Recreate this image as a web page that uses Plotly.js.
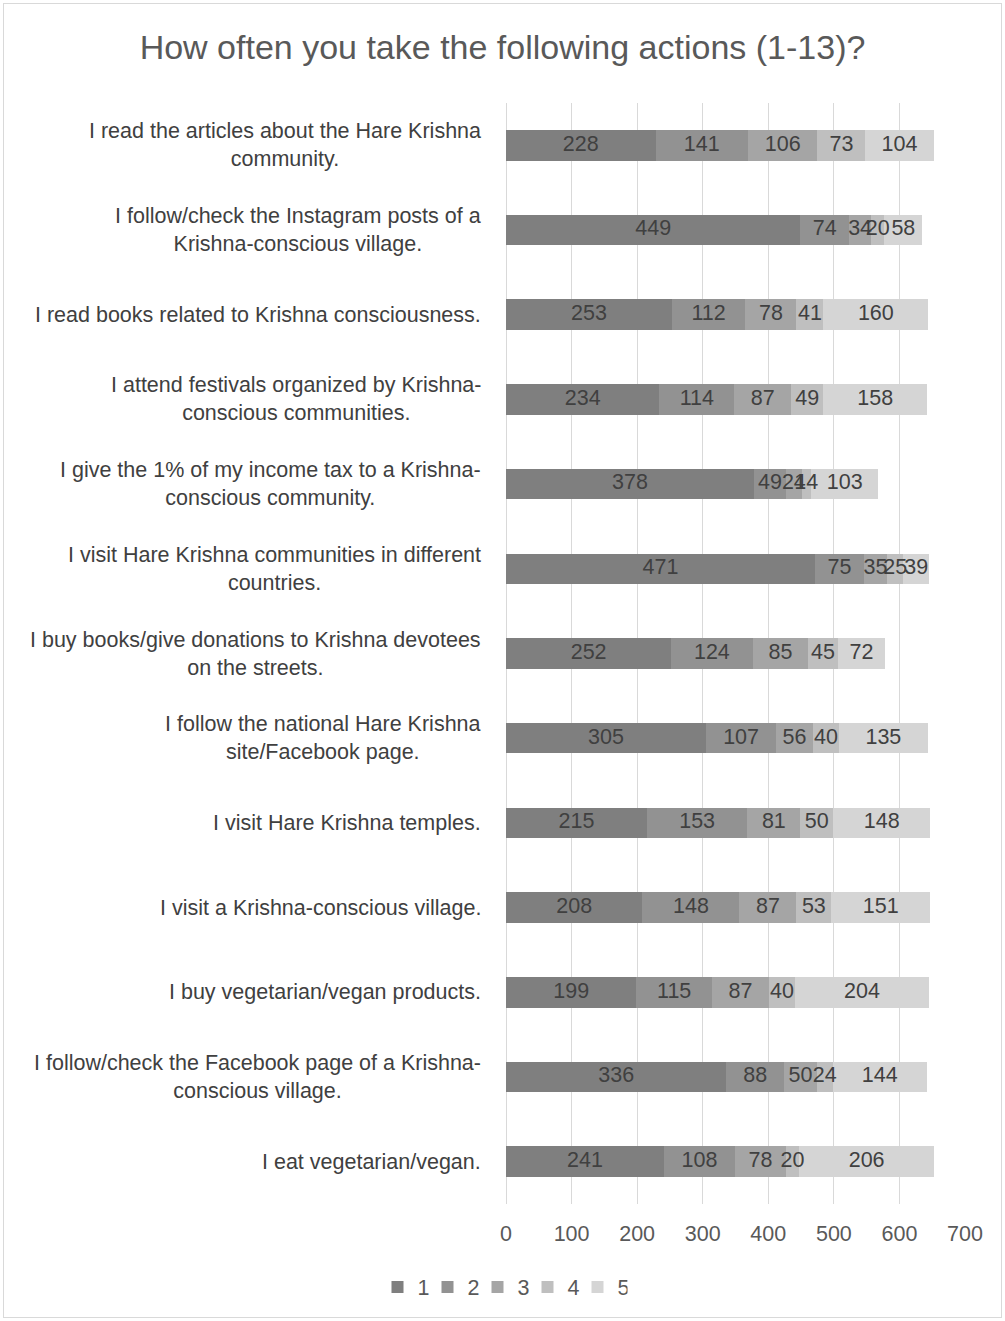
<!DOCTYPE html>
<html><head><meta charset="utf-8">
<script src="https://cdn.plot.ly/plotly-3.0.1.min.js"></script>
<style>
html,body{margin:0;padding:0;background:#fff;}
#wrap{position:relative;width:1005px;height:1321px;}
#chart{width:1005px;height:1321px;}
#frame{position:absolute;left:3px;top:3px;width:997px;height:1313px;border:1px solid #d9d9d9;pointer-events:none;}
</style></head>
<body><div id="wrap"><div id="chart"></div><div id="frame"></div></div>
<script>
const categories = [
  "I read the articles about the Hare Krishna<br>community.",
  "I follow/check the Instagram posts of a<br>Krishna-conscious village.",
  "I read books related to Krishna consciousness.",
  "I attend festivals organized by Krishna-<br>conscious communities.",
  "I give the 1% of my income tax to a Krishna-<br>conscious community.",
  "I visit Hare Krishna communities in different<br>countries.",
  "I buy books/give donations to Krishna devotees<br>on the streets.",
  "I follow the national Hare Krishna<br>site/Facebook page.",
  "I visit Hare Krishna temples.",
  "I visit a Krishna-conscious village.",
  "I buy vegetarian/vegan products.",
  "I follow/check the Facebook page of a Krishna-<br>conscious village.",
  "I eat vegetarian/vegan."
];
const seriesNames = ["1","2","3","4","5"];
const s1 = [228,449,253,234,378,471,252,305,215,208,199,336,241];
const s2 = [141,74,112,114,49,75,124,107,153,148,115,88,108];
const s3 = [106,34,78,87,24,35,85,56,81,87,87,50,78];
const s4 = [73,20,41,49,14,25,45,40,50,53,40,24,20];
const s5 = [104,58,160,158,103,39,72,135,148,151,204,144,206];
const colors = ["#7f7f7f","#929292","#a5a5a5","#bfbfbf","#d5d5d5"];
const xTicks = [0,100,200,300,400,500,600,700];

const FONT = "Liberation Sans, Arial, sans-serif";
const series = [s1,s2,s3,s4,s5];
const ids = categories.map((c,i)=>"c"+i);
const traces = [];
series.forEach((vals,k)=>{
  traces.push({type:"bar",orientation:"h",name:seriesNames[k],x:vals,y:ids,
    marker:{color:colors[k],line:{width:0}},hoverinfo:"skip"});
});
series.forEach((vals,k)=>{
  const mids = vals.map((v,i)=>{let b=0;for(let j=0;j<k;j++)b+=series[j][i];return b+v/2;});
  traces.push({type:"scatter",mode:"text",x:mids,y:ids,text:vals.map(String),
    textposition:"middle center",textfont:{family:FONT,size:21.5,color:"#404040"},
    showlegend:false,hoverinfo:"skip",cliponaxis:false});
});
const annotations = categories.map((c,i)=>({xref:"paper",yref:"y",x:-0.05,y:ids[i],text:c,
  showarrow:false,xanchor:"right",yanchor:"middle",align:"center",
  font:{family:FONT,size:21.5,color:"#404040"}}));
const layout = {
  width:1005,height:1321,
  paper_bgcolor:"#fff",plot_bgcolor:"#fff",
  margin:{l:506,r:40,t:103,b:117,autoexpand:false},
  barmode:"stack",bargap:0.64,
  title:{text:"How often you take the following actions (1-13)?",x:0.5,xanchor:"center",xref:"container",
    y:1-47/1321,yanchor:"middle",yref:"container",
    font:{family:FONT,size:34,color:"#595959"}},
  xaxis:{range:[0,700],tickvals:xTicks,ticktext:xTicks.map(String),showgrid:true,gridcolor:"#d9d9d9",gridwidth:1,
    zeroline:true,zerolinecolor:"#d9d9d9",showline:false,ticks:"",ticklabelstandoff:14,
    tickfont:{family:FONT,size:21.5,color:"#595959"},fixedrange:true},
  yaxis:{type:"category",range:[categories.length-0.5,-0.5],autorange:false,showticklabels:false,showgrid:false,zeroline:false,ticks:"",fixedrange:true},
  showlegend:true,
  legend:{orientation:"h",traceorder:"normal",x:0.5,xanchor:"center",xref:"container",y:34/1321,yref:"container",yanchor:"middle",
    font:{family:FONT,size:21.5,color:"#595959"},itemwidth:30,tracegroupgap:0,entrywidth:5,entrywidthmode:"pixels"},
  annotations:annotations
};
Plotly.newPlot("chart",traces,layout,{displayModeBar:false,staticPlot:true});
</script></body></html>
